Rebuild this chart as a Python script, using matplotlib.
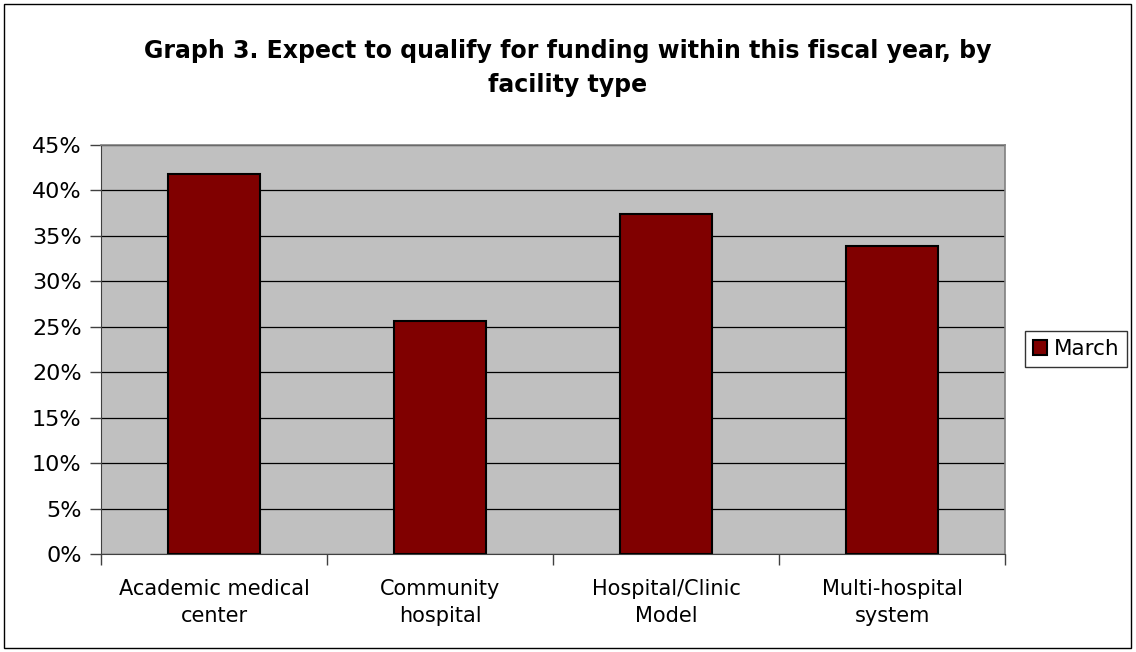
import matplotlib
matplotlib.use('Agg')
import matplotlib.pyplot as plt
from matplotlib.patches import Rectangle
from matplotlib.ticker import MultipleLocator, FuncFormatter

categories = ['Academic medical\ncenter', 'Community\nhospital',
              'Hospital/Clinic\nModel', 'Multi-hospital\nsystem']
march = [41.8, 25.6, 37.4, 33.9]
series_name = 'March'
title = 'Graph 3. Expect to qualify for funding within this fiscal year, by\nfacility type'

plt.rcParams['font.family'] = ['DejaVu Sans']

fig = plt.figure(figsize=(11.36, 6.52), dpi=100)
fig.patch.set_facecolor('white')

# outer chart border
fig.add_artist(Rectangle((4 / 1136, 4 / 652), 1127 / 1136, 644 / 652,
                         transform=fig.transFigure, fill=False,
                         edgecolor='black', linewidth=1.0))

ax = fig.add_axes([101 / 1136, 1 - 554 / 652, 904 / 1136, 409 / 652])
ax.set_facecolor('#c0c0c0')

x = list(range(len(categories)))
bars = ax.bar(x, march, width=0.41, color='#800000', edgecolor='black',
              linewidth=1.5, zorder=3, label=series_name)

ax.set_xlim(-0.5, len(categories) - 0.5)
ax.set_ylim(0, 45)
ax.yaxis.set_major_locator(MultipleLocator(5))
ax.yaxis.set_major_formatter(FuncFormatter(lambda v, p: '{:.0f}%'.format(v)))
ax.grid(axis='y', color='black', linewidth=0.9, zorder=1)

ax.set_xticks(x)
ax.set_xticklabels(categories, fontsize=15, linespacing=1.45)
ax.set_xticks([i - 0.5 for i in range(len(categories) + 1)], minor=True)
ax.tick_params(axis='x', which='major', length=0, pad=18)
ax.tick_params(axis='x', which='minor', length=8, width=1, color='#404040',
               direction='out')
ax.tick_params(axis='y', length=8, width=1, labelsize=16, pad=6,
               color='#404040')

for side in ['top', 'right']:
    ax.spines[side].set_color('#808080')
    ax.spines[side].set_linewidth(1.2)
ax.spines['left'].set_color('#404040')
ax.spines['bottom'].set_color('#404040')

fig.text(568 / 1136, 1 - 68 / 652, title, ha='center', va='center',
         fontsize=17, fontweight='bold', linespacing=1.55)

leg = fig.legend(handles=[bars], labels=[series_name],
                 loc='center', bbox_to_anchor=(1076 / 1136, 1 - 349 / 652),
                 fontsize=15.5, frameon=True, fancybox=False,
                 handlelength=0.65, handleheight=0.65, handletextpad=0.3,
                 borderpad=0.35, borderaxespad=0)
leg.get_frame().set_edgecolor('black')
leg.get_frame().set_linewidth(1.0)

fig.savefig('out.png', dpi=100, facecolor='white')
